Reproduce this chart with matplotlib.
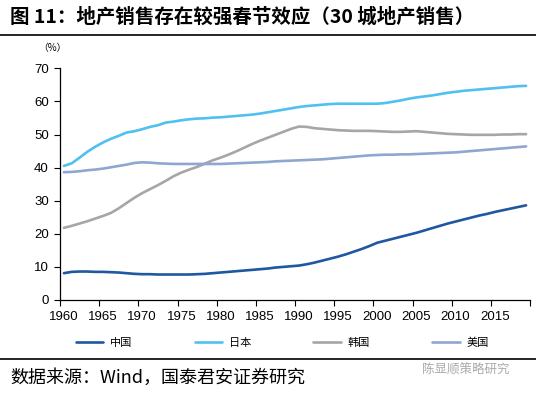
import matplotlib
matplotlib.use("Agg")
import matplotlib.pyplot as plt
import numpy as np

plt.rcParams['font.family'] = ['Noto Sans CJK SC', 'DejaVu Sans']

years = list(range(1960, 2020))
china = [8.1, 8.5, 8.6, 8.6, 8.5, 8.5, 8.4, 8.3, 8.1, 7.9,
         7.8, 7.8, 7.7, 7.7, 7.7, 7.7, 7.7, 7.8, 7.9, 8.1,
         8.3, 8.5, 8.7, 8.9, 9.1, 9.3, 9.5, 9.8, 10.0, 10.2,
         10.4, 10.8, 11.3, 11.9, 12.5, 13.1, 13.8, 14.6, 15.4, 16.3,
         17.3, 17.9, 18.5, 19.1, 19.7, 20.3, 21.0, 21.7, 22.4, 23.1,
         23.7, 24.3, 24.9, 25.5, 26.0, 26.6, 27.1, 27.6, 28.1, 28.6]
japan = [40.5, 41.3, 43.0, 44.8, 46.3, 47.6, 48.7, 49.6, 50.6, 51.0,
         51.6, 52.3, 52.8, 53.6, 53.9, 54.3, 54.6, 54.8, 54.9, 55.1,
         55.2, 55.4, 55.6, 55.8, 56.0, 56.3, 56.7, 57.1, 57.5, 57.9,
         58.3, 58.6, 58.8, 59.0, 59.2, 59.3, 59.3, 59.3, 59.3, 59.3,
         59.3, 59.5, 59.9, 60.3, 60.8, 61.2, 61.5, 61.8, 62.2, 62.6,
         62.9, 63.2, 63.4, 63.6, 63.8, 64.0, 64.2, 64.4, 64.6, 64.7]
korea = [21.8, 22.4, 23.1, 23.8, 24.6, 25.4, 26.3, 27.7, 29.3, 30.9,
         32.3, 33.5, 34.7, 36.0, 37.4, 38.5, 39.4, 40.2, 41.2, 42.2,
         43.0, 43.9, 44.9, 46.0, 47.1, 48.1, 49.0, 49.9, 50.8, 51.7,
         52.4, 52.3, 51.9, 51.7, 51.5, 51.3, 51.2, 51.1, 51.1, 51.1,
         51.0, 50.9, 50.8, 50.8, 50.9, 51.0, 50.8, 50.6, 50.4, 50.2,
         50.1, 50.0, 49.9, 49.9, 49.9, 49.9, 50.0, 50.0, 50.1, 50.1]
usa = [38.6, 38.7, 38.9, 39.2, 39.4, 39.7, 40.1, 40.5, 40.9, 41.4,
       41.6, 41.5, 41.3, 41.2, 41.1, 41.1, 41.1, 41.1, 41.1, 41.1,
       41.1, 41.2, 41.3, 41.4, 41.5, 41.6, 41.7, 41.9, 42.0, 42.1,
       42.2, 42.3, 42.4, 42.5, 42.7, 42.9, 43.1, 43.3, 43.5, 43.7,
       43.8, 43.9, 43.9, 44.0, 44.0, 44.1, 44.2, 44.3, 44.4, 44.5,
       44.6, 44.8, 45.0, 45.2, 45.4, 45.6, 45.8, 46.0, 46.2, 46.4]
series_names = ['中国', '日本', '韩国', '美国']
colors = ['#1F57A0', '#4FC0F0', '#A6A6A6', '#8EA6D0']
xtick_labels = [str(y) for y in range(1960, 2020, 5)]
yticks = [0, 10, 20, 30, 40, 50, 60, 70]

W, H = 536, 393
fig = plt.figure(figsize=(W / 100, H / 100), dpi=100)
ax = fig.add_axes([60 / W, 1 - 300 / H, (530 - 60) / W, (300 - 68.3) / H])

for data, c, name in zip([china, japan, korea, usa], colors, series_names):
    ax.plot(years, data, color=c, lw=1.9, label=name, solid_capstyle='round')

ax.set_xlim(years[0] - 0.5, years[-1] + 0.5)
ax.set_ylim(0, 70)
ax.set_yticks(yticks)
ax.set_yticklabels([str(v) for v in yticks], fontsize=9.5, family=['Liberation Sans'])
ax.set_xticks([int(s) for s in xtick_labels])
ax.set_xticklabels(xtick_labels, fontsize=9.5, family=['Liberation Sans'])
ax.tick_params(axis='x', which='major', length=0, pad=8)
ax.set_xticks(np.arange(years[0] - 0.5, years[-1] + 1, 5), minor=True)
ax.tick_params(axis='x', which='minor', length=4, width=0.8, direction='out')
ax.tick_params(axis='y', length=4, width=0.8, direction='out', pad=4)
for s in ['top', 'right']:
    ax.spines[s].set_visible(False)
for s in ['left', 'bottom']:
    ax.spines[s].set_linewidth(0.9)

fig.text(52 / W, 1 - 48 / H, '（%）', fontsize=7, ha='center', va='center')

leg = ax.legend(loc='center', bbox_to_anchor=(0.473, -0.186), ncol=4, frameon=False,
                fontsize=8, handlelength=2.5, columnspacing=5.6, handletextpad=0.6)

fig.text(10 / W, 1 - 17 / H, '图 11：地产销售存在较强春节效应（30 城地产销售）',
         fontsize=14, fontweight='bold', ha='left', va='center')
fig.add_artist(plt.Line2D([0, 1], [1 - 35 / H, 1 - 35 / H], color='black', lw=1.2,
                          transform=fig.transFigure))
fig.add_artist(plt.Line2D([0, 1], [1 - 359 / H, 1 - 359 / H], color='black', lw=1.2,
                          transform=fig.transFigure))
fig.text(10 / W, 1 - 378 / H, '数据来源：Wind，国泰君安证券研究', fontsize=13,
         ha='left', va='center')
fig.text(422 / W, 1 - 370 / H, '陈显顺策略研究', fontsize=9, color='#AAAAAA',
         ha='left', va='center')

fig.savefig('out.png', dpi=100)
